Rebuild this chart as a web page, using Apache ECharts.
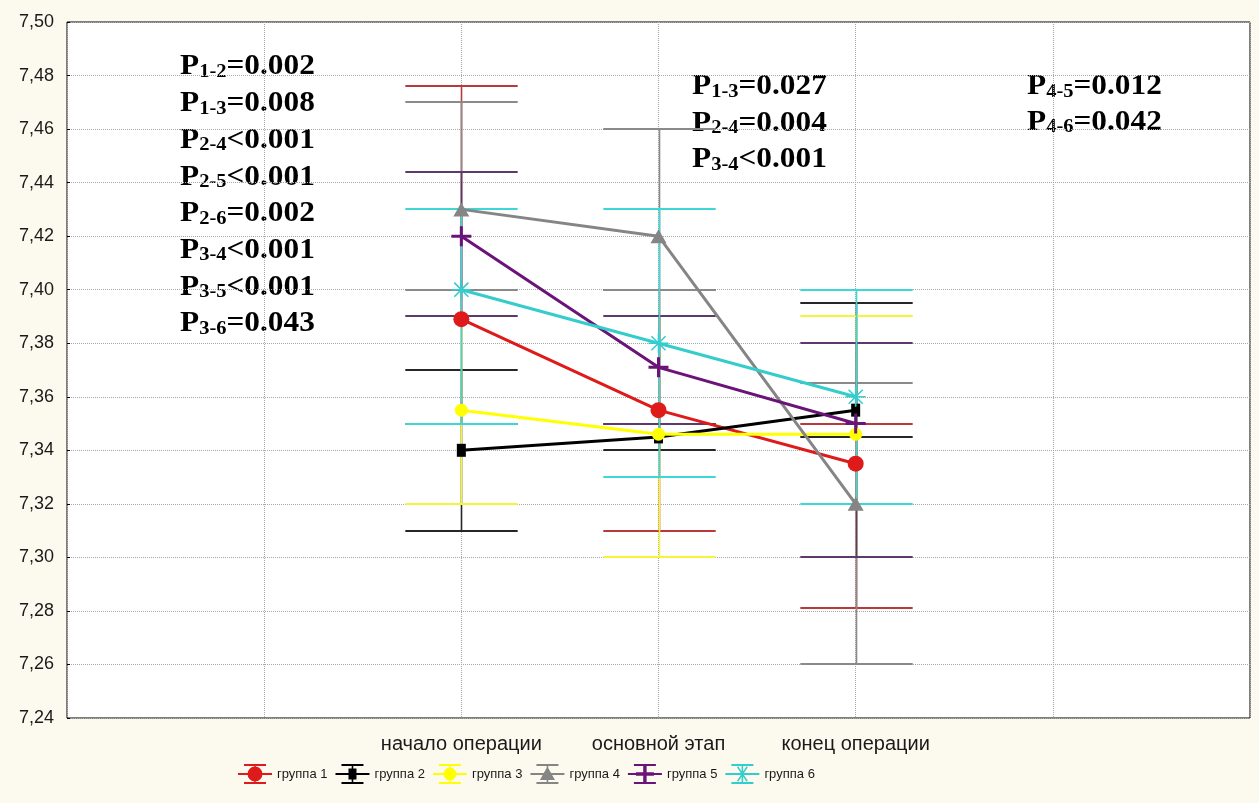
<!DOCTYPE html>
<html><head><meta charset="utf-8">
<script src="https://cdn.jsdelivr.net/npm/echarts@6/dist/echarts.min.js"></script>
<style>html,body{margin:0;padding:0;background:#fcfaef;} #c{width:1259px;height:803px;}</style>
</head><body><div id="c"></div>
<script>
// ---------- data ----------
const categories = ['начало операции', 'основной этап', 'конец операции'];
const groupNames = ['группа 1', 'группа 2', 'группа 3', 'группа 4', 'группа 5', 'группа 6'];

const g1Mean = [7.389, 7.355, 7.335];
const g1High = [7.476, 7.400, 7.350];
const g1Low  = [7.350, 7.310, 7.281];

const g2Mean = [7.340, 7.345, 7.355];
const g2High = [7.370, 7.350, 7.395];
const g2Low  = [7.310, 7.340, 7.345];

const g3Mean = [7.355, 7.346, 7.346];
const g3High = [7.390, 7.390, 7.390];
const g3Low  = [7.320, 7.300, 7.300];

const g4Mean = [7.430, 7.420, 7.320];
const g4High = [7.470, 7.460, 7.365];
const g4Low  = [7.400, 7.400, 7.260];

const g5Mean = [7.420, 7.371, 7.350];
const g5High = [7.444, 7.390, 7.380];
const g5Low  = [7.390, 7.350, 7.300];

const g6Mean = [7.400, 7.380, 7.360];
const g6High = [7.430, 7.430, 7.400];
const g6Low  = [7.350, 7.330, 7.320];

const yMin = 7.24, yMax = 7.50, yStep = 0.02;

const annLeft  = [['1-2','=0.002'],['1-3','=0.008'],['2-4','<0.001'],['2-5','<0.001'],['2-6','=0.002'],['3-4','<0.001'],['3-5','<0.001'],['3-6','=0.043']];
const annMid   = [['1-3','=0.027'],['2-4','=0.004'],['3-4','<0.001']];
const annRight = [['4-5','=0.012'],['4-6','=0.042']];

// ---------- styles ----------
const means = [g1Mean, g2Mean, g3Mean, g4Mean, g5Mean, g6Mean];
const highs = [g1High, g2High, g3High, g4High, g5High, g6High];
const lows  = [g1Low, g2Low, g3Low, g4Low, g5Low, g6Low];
const lineColors = ['#de1a1a', '#000000', '#ffff00', '#858585', '#6a1478', '#35cccc'];
const capColors  = ['#b83a3a', '#262626', '#f4f43a', '#8a8a8a', '#5e3a6c', '#3fd6d6'];

const plusPath = 'path://M-1.5,-10H1.5V-1.5H10V1.5H1.5V10H-1.5V1.5H-10V-1.5H-1.5Z';
const starPath = 'path://M-0.8,-10H0.8V10H-0.8Z M-10,-0.8H10V0.8H-10Z M-7.6,-6.5L-6.5,-7.6L7.6,6.5L6.5,7.6Z M6.5,-7.6L7.6,-6.5L-6.5,7.6L-7.6,6.5Z';
const symbols = [
  {symbol: 'circle', size: 16},
  {symbol: 'rect', size: [9, 13]},
  {symbol: 'circle', size: 13},
  {symbol: 'triangle', size: [16, 14]},
  {symbol: plusPath, size: 20},
  {symbol: starPath, size: 20}
];

// legend icons (error-bar glyph + marker) in a 34x22 box
const iconBase = 'M0,0H0.01V0.01H0Z M33.99,21.99H34V22H33.99Z M6,1H28V3H6Z M6,19H28V21H6Z M16.2,1H17.8V21H16.2Z M0,10H34V12H0Z ';
const iconMarks = [
  'M9.5,11A7.5,7.5 0 1,1 24.5,11A7.5,7.5 0 1,1 9.5,11Z',
  'M13,5.5H21V16.5H13Z',
  'M10.5,11A6.5,6.5 0 1,1 23.5,11A6.5,6.5 0 1,1 10.5,11Z',
  'M17,3.5L24.5,17L9.5,17Z',
  'M8,9.3H26V12.7H8Z M15.3,2.5H18.7V19.5H15.3Z',
  'M7,10.2H27V11.8H7Z M11.6,4.2L12.8,3.2L22.4,17.8L21.2,18.8Z M21.2,3.2L22.4,4.2L12.8,18.8L11.6,17.8Z'
];

const series = [];
groupNames.forEach((name, gi) => {
  series.push({
    type: 'custom',
    name: 'eb' + gi,
    z: 2,
    silent: true,
    data: categories.map((c, ci) => [ci + 2, highs[gi][ci], lows[gi][ci]]),
    encode: {x: 0, y: [1, 2]},
    renderItem: (params, api) => {
      const x = api.value(0);
      const pHi = api.coord([x, api.value(1)]);
      const pLo = api.coord([x, api.value(2)]);
      const hw = api.size([0.285, 0])[0];
      const cx = Math.round(pHi[0]) + 0.5;
      const yh = Math.round(pHi[1]);
      const yl = Math.round(pLo[1]);
      const cs = {stroke: capColors[gi], lineWidth: 2};
      return {type: 'group', children: [
        {type: 'line', shape: {x1: cx, y1: yh, x2: cx, y2: yl}, style: {stroke: capColors[gi], lineWidth: 1.6}},
        {type: 'line', shape: {x1: cx - hw, y1: yh, x2: cx + hw, y2: yh}, style: cs},
        {type: 'line', shape: {x1: cx - hw, y1: yl, x2: cx + hw, y2: yl}, style: cs}
      ]};
    }
  });
});
groupNames.forEach((name, gi) => {
  series.push({
    type: 'line',
    name: name,
    z: 3,
    data: categories.map((c, ci) => [ci + 2, means[gi][ci]]),
    symbol: symbols[gi].symbol,
    symbolSize: symbols[gi].size,
    showAllSymbol: true,
    lineStyle: {color: lineColors[gi], width: 3},
    itemStyle: {color: lineColors[gi], borderWidth: 0},
    emphasis: {disabled: true},
    animation: false
  });
});

const serif = "'Liberation Serif','Times New Roman',serif";
function annText(list, x0, base0, pitch) {
  return list.map((a, i) => ({
    type: 'text',
    x: x0,
    y: base0 + i * pitch - 8,
    scaleX: 1.08,
    style: {
      text: '{p|P}{s|' + a[0] + '}{p|' + a[1] + '}',
      verticalAlign: 'middle',
      rich: {
        p: {fontFamily: serif, fontWeight: 'bold', fontSize: 29, lineHeight: 29, fill: '#000'},
        s: {fontFamily: serif, fontWeight: 'bold', fontSize: 19, lineHeight: 13, verticalAlign: 'bottom', fill: '#000'}
      }
    }
  }));
}

const chart = echarts.init(document.getElementById('c'), null, {renderer: 'canvas'});
chart.setOption({
  backgroundColor: '#fcfaef',
  animation: false,
  grid: {left: 67, right: 9, top: 22, bottom: 85, show: true, backgroundColor: '#ffffff', borderColor: '#000', borderWidth: 1},
  xAxis: {
    type: 'value', min: 0, max: 6, interval: 1,
    axisLine: {show: false}, axisTick: {show: false},
    splitLine: {show: true, lineStyle: {type: 'dotted', color: '#a8a8a8', width: 1}},
    axisLabel: {
      formatter: v => categories[v - 2] || '',
      fontFamily: "'Liberation Sans',Arial,sans-serif", fontSize: 20, color: '#1a1a1a', margin: 16
    }
  },
  yAxis: {
    type: 'value', min: yMin, max: yMax, interval: yStep,
    axisLine: {show: false},
    axisTick: {show: true, inside: true, length: 3, lineStyle: {color: '#000'}},
    splitLine: {show: true, lineStyle: {type: 'dotted', color: '#a8a8a8', width: 1}},
    axisLabel: {
      formatter: v => v.toFixed(2).replace('.', ','),
      fontFamily: "'Liberation Sans',Arial,sans-serif", fontSize: 18, color: '#1a1a1a', margin: 13
    }
  },
  legend: {
    left: 233, top: 758,
    itemWidth: 34, itemHeight: 22, itemGap: 8,
    selectedMode: false,
    textStyle: {fontFamily: "'Liberation Sans',Arial,sans-serif", fontSize: 13, color: '#1a1a1a'},
    itemStyle: {borderWidth: 0},
    data: groupNames.map((n, i) => ({name: n, icon: 'path://' + iconBase + iconMarks[i]}))
  },
  graphic: [].concat(annText(annLeft, 180, 75, 36.7), annText(annMid, 692, 95, 36.5), annText(annRight, 1027, 95, 35.5)),
  series: series
});
</script>
</body></html>
